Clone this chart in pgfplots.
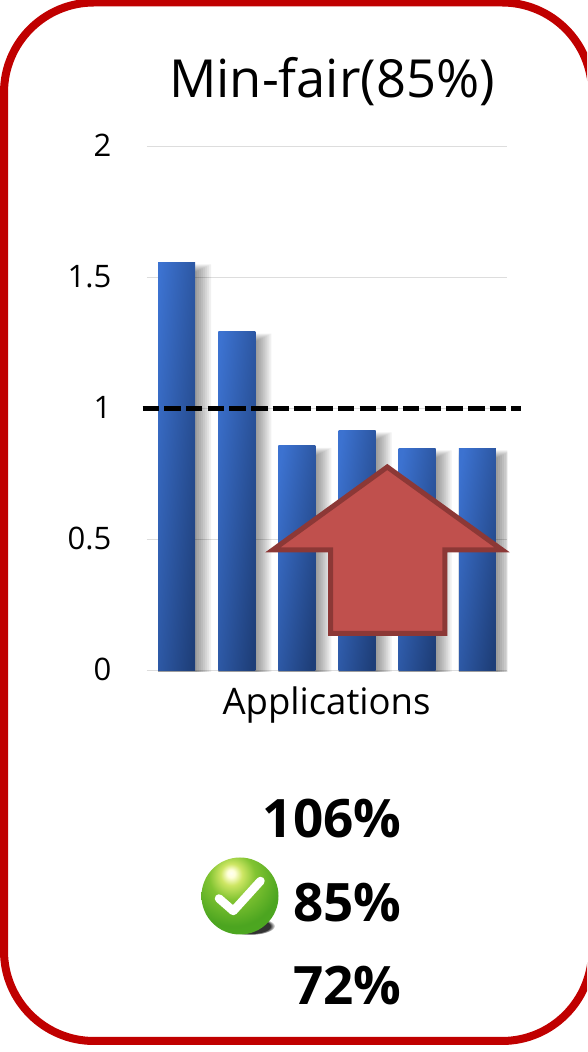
\documentclass[border=0pt]{standalone}
\usepackage{pgfplots}
\usepackage{pgfplotstable}
\usepackage{fontspec}
\pgfplotsset{compat=1.18}
\usetikzlibrary{fadings}
\setmainfont{Open Sans}

\definecolor{framered}{HTML}{C00000}
\definecolor{barlight}{HTML}{3C72D0}
\definecolor{bardark}{HTML}{1E3E78}
\definecolor{gridgray}{HTML}{DDDDDD}
\definecolor{arrowfill}{HTML}{C0504D}
\definecolor{arrowline}{HTML}{8C3836}

% Glossy sphere behind the check mark
\pgfdeclareradialshading{ballshade}{\pgfpoint{-6bp}{15bp}}{%
  color(0bp)=(white!95!yellow);
  color(2.5bp)=(white!85!yellow);
  color(7bp)=({rgb,255:red,206;green,230;blue,100});
  color(15bp)=({rgb,255:red,130;green,196;blue,50});
  color(30bp)=({rgb,255:red,76;green,165;blue,32});
  color(45bp)=({rgb,255:red,78;green,170;blue,34});
  color(58bp)=({rgb,255:red,98;green,198;blue,44});
  color(68bp)=({rgb,255:red,58;green,150;blue,26});
  color(100bp)=({rgb,255:red,58;green,150;blue,26})}

\pgfplotstableread{
x  y
0  1.56
1  1.295
2  0.859
3  0.918
4  0.85
5  0.85
}\fairness

\pgfplotsset{
  glossbar/.style={ybar, forget plot, draw=none, bar width=37pt,
    top color=barlight, bottom color=bardark, shading angle=#1},
}

\begin{document}
\begin{tikzpicture}
\path[use as bounding box] (0,0) rectangle (587pt,1052pt);
\clip (0,0) rectangle (587pt,1052pt);

\begin{axis}[
  at={(146.5pt,381pt)}, anchor=south west,
  scale only axis, width=361pt, height=524pt,
  xmin=-0.5, xmax=5.5, ymin=0, ymax=2,
  clip mode=individual,
  axis line style={draw=none},
  xtick=\empty,
  ytick={0,0.5,1,1.5,2},
  yticklabels={0,0.5,1,1.5,2},
  ymajorgrids,
  grid style={gridgray, line width=1pt},
  major tick length=0pt,
  yticklabel style={font=\fontsize{31}{33}\selectfont, inner sep=0pt, xshift=-35pt, yshift=1.5pt},
  /pgf/number format/assume math mode=true,
]
% soft shadow to the lower right of each bar
\pgfplotsinvokeforeach{1,2,...,8}{
  \addplot[ybar, forget plot, draw=none, fill=black, fill opacity=0.06,
    bar width={37pt+2*#1 pt}, bar shift={#1 pt}, yshift={-(10-#1)*1pt}] table[x=x,y=y] {\fairness};
}
% one plot per bar, so that each carries its own gradient
\addplot[glossbar=85] coordinates {(0,1.56)};
\addplot[glossbar=84] coordinates {(1,1.295)};
\addplot[glossbar=81] coordinates {(2,0.859)};
\addplot[glossbar=82] coordinates {(3,0.918)};
\addplot[glossbar=81] coordinates {(4,0.85)};
\addplot[glossbar=81] coordinates {(5,0.85)};
% reference level
\draw[black, line width=5pt, dash pattern=on 16.5pt off 5.2pt]
  (axis cs:-0.566,1) -- (axis cs:5.72,1);
\end{axis}

\begin{scope}[x=1pt, y=-1pt, shift={(0pt,1052pt)}]
  % trims the shadows at the baseline
  \fill[white] (146,672) rectangle (520,684);

  % outer rounded frame
  \draw[framered, line width=8pt, rounded corners=90pt] (4,2.5) rectangle (592,1041);

  % upward arrow
  \draw[arrowline, fill=arrowfill, line width=5pt, miter limit=10]
    (387.3,467) -- (502,549.8) -- (444.8,549.8) -- (444.8,633.5)
    -- (330.5,633.5) -- (330.5,549.8) -- (273,549.8) -- cycle;

  % title, axis name and options
  \node[anchor=base, inner sep=0pt, font=\fontsize{52.5}{56}\selectfont] at (332,98) {Min-fair(85\%)};
  \node[anchor=base, inner sep=0pt, font=\fontsize{36.5}{40}\selectfont] at (326.5,715) {Applications};
  \node[anchor=base east, inner sep=0pt, font=\fontsize{53}{56}\bfseries\selectfont] at (401.5,838) {106\%};
  \node[anchor=base east, inner sep=0pt, font=\fontsize{53}{56}\bfseries\selectfont] at (401.5,922) {85\%};
  \node[anchor=base east, inner sep=0pt, font=\fontsize{53}{56}\bfseries\selectfont] at (401.5,1005) {72\%};

  % check mark badge
  \fill[black, opacity=0.8, path fading=circle with fuzzy edge 20 percent]
    (250,926) ellipse (25 and 9);
  \shade[shading=ballshade] (240,896) circle (38.5);
  \draw[white, line width=8.5pt, line cap=round, line join=round]
    (219,898.5) -- (233.3,911) -- (260.5,881);
\end{scope}
\end{tikzpicture}
\end{document}
